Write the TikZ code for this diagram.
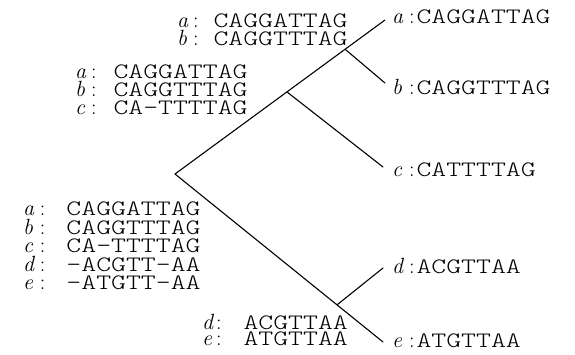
\documentclass[tikz,border=0pt]{standalone}
\usepackage{fontspec}
\usetikzlibrary{calc}
\newfontfamily\seqfont{lmmonolt10-regular.otf}[FakeStretch=1.29]
\newcommand\tlab[3]{\makebox[#3][l]{\makebox[#2][l]{\itshape #1}:}}
\begin{document}
\begin{tikzpicture}[x=1pt,y=-1pt,
  lbl/.style={anchor=base west, inner sep=0pt, outer sep=0pt, text height=13pt, text depth=0pt,
    font=\fontsize{22}{18}\selectfont},
  branch/.style={line width=1.1pt, line cap=round}]
\useasboundingbox (0,0) rectangle (575,355);
% tree
\coordinate (root) at (175,174);
\coordinate (la) at (385,20);
\coordinate (lb) at (385,83);
\coordinate (lc) at (383,167);
\coordinate (ld) at (383,268);
\coordinate (le) at (383,342);
\coordinate (ab) at ($(root)!0.810!(la)$);
\coordinate (abc) at ($(root)!0.533!(la)$);
\coordinate (de) at ($(root)!0.779!(le)$);
\draw[branch] (root) -- (abc) -- (ab) -- (la);
\draw[branch] (ab) -- (lb);
\draw[branch] (abc) -- (lc);
\draw[branch] (root) -- (de) -- (le);
\draw[branch] (de) -- (ld);
% leaf labels
\node[lbl] (ta) at (392,23.3) {\tlab{a}{17pt}{24.5pt}\seqfont CAGGATTAG};
\node[lbl] (tb) at (392,95)   {\tlab{b}{17pt}{24.5pt}\seqfont CAGGTTTAG};
\node[lbl] (tc) at (392,177)  {\tlab{c}{17pt}{24.5pt}\seqfont CATTTTAG};
\node[lbl] (td) at (392,273.5){\tlab{d}{17pt}{24.5pt}\seqfont ACGTTAA};
\node[lbl] (te) at (392,347)  {\tlab{e}{17pt}{24.5pt}\seqfont ATGTTAA};
% block ab
\node[lbl] (ab-a) at (177,27.7) {\tlab{a}{16pt}{36.5pt}\seqfont CAGGATTAG};
\node[lbl] (ab-b) at (177,45.7) {\tlab{b}{16pt}{36.5pt}\seqfont CAGGTTTAG};
% block abc
\node[lbl] (abc-a) at (75,78.3)  {\tlab{a}{16pt}{38.5pt}\seqfont CAGGATTAG};
\node[lbl] (abc-b) at (75,96.5)  {\tlab{b}{16pt}{38.5pt}\seqfont CAGGTTTAG};
\node[lbl] (abc-c) at (75,114.7) {\tlab{c}{16pt}{38.5pt}\seqfont CA-TTTTAG};
% block root
\node[lbl] (r-a) at (23,215.7) {\tlab{a}{17pt}{43.5pt}\seqfont CAGGATTAG};
\node[lbl] (r-b) at (23,234.2) {\tlab{b}{17pt}{43.5pt}\seqfont CAGGTTTAG};
\node[lbl] (r-c) at (23,252.7) {\tlab{c}{17pt}{43.5pt}\seqfont CA-TTTTAG};
\node[lbl] (r-d) at (23,271.2) {\tlab{d}{17pt}{43.5pt}\seqfont -ACGTT-AA};
\node[lbl] (r-e) at (23,289.7) {\tlab{e}{17pt}{43.5pt}\seqfont -ATGTT-AA};
% block de
\node[lbl] (de-d) at (202,329) {\tlab{d}{14pt}{41.5pt}\seqfont ACGTTAA};
\node[lbl] (de-e) at (202,345) {\tlab{e}{14pt}{41.5pt}\seqfont ATGTTAA};
\end{tikzpicture}
\end{document}
